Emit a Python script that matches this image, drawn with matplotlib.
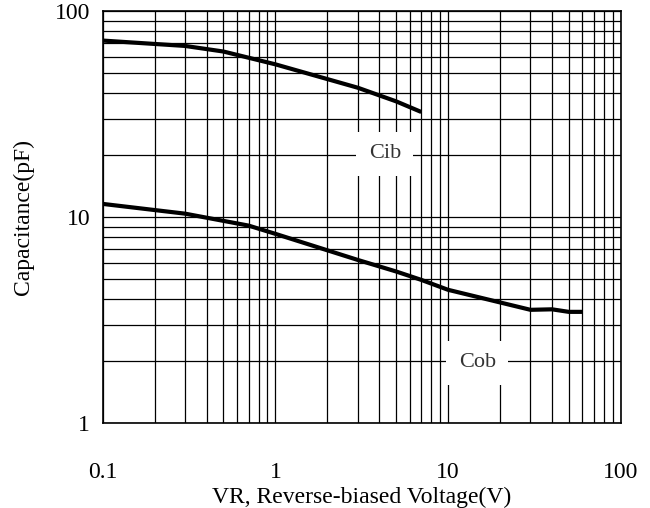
import numpy as np
import matplotlib
matplotlib.use('Agg')
import matplotlib.pyplot as plt
from matplotlib.ticker import FixedLocator, NullFormatter

# Datos
vr_cib = [0.1, 0.3, 0.5, 1, 3, 5, 7]
cib = [72, 67.8, 63.7, 55.2, 42.5, 36.5, 32.4]

vr_cob = [0.1, 0.3, 0.7, 1, 3, 5, 7, 10, 30, 40, 50, 60]
cob = [11.6, 10.4, 9.1, 8.3, 6.2, 5.45, 4.96, 4.44, 3.55, 3.57, 3.47, 3.47]

x_ticks = [0.1, 1, 10, 100]
x_labels = ['0.1', '1', '10', '100']
y_ticks = [1, 10, 100]
y_labels = ['1', '10', '100']

plt.rcParams['font.family'] = ['Liberation Serif', 'DejaVu Serif']

fig = plt.figure(figsize=(6.5, 5.08), dpi=100)
ax = fig.add_axes([0.158, 0.167, 0.797, 0.811])

ax.plot(vr_cib, cib, color='black', lw=3, solid_capstyle='butt', zorder=5)
ax.plot(vr_cob, cob, color='black', lw=3, solid_capstyle='butt', zorder=5)

ax.set_xscale('log')
ax.set_yscale('log')
ax.set_xlim(0.1, 100)
ax.set_ylim(1, 100)

ax.xaxis.set_major_locator(FixedLocator(x_ticks))
ax.yaxis.set_major_locator(FixedLocator(y_ticks))
ax.set_xticklabels(x_labels)
ax.set_yticklabels(y_labels)
ax.xaxis.set_minor_formatter(NullFormatter())
ax.yaxis.set_minor_formatter(NullFormatter())

ax.grid(True, which='both', color='black', lw=0.9)
ax.tick_params(which='both', length=0, labelsize=17)
ax.tick_params(axis='x', pad=28)
ax.tick_params(axis='y', pad=9)

for s in ax.spines.values():
    s.set_color('black')
    s.set_linewidth(1.2)

ax.text(4.3, 20.3, 'Cib', fontsize=16, color='#333333', ha='center', va='center', zorder=6,
        bbox=dict(facecolor='white', edgecolor='none', pad=9))
ax.text(14.8, 1.96, 'Cob', fontsize=16, color='#333333', ha='center', va='center', zorder=6,
        bbox=dict(facecolor='white', edgecolor='none', pad=9))

ax.set_xlabel('VR, Reverse-biased Voltage(V)', fontsize=17, labelpad=3)
ax.set_ylabel('Capacitance(pF)', fontsize=17, labelpad=15)

fig.savefig('out.png', dpi=100)
